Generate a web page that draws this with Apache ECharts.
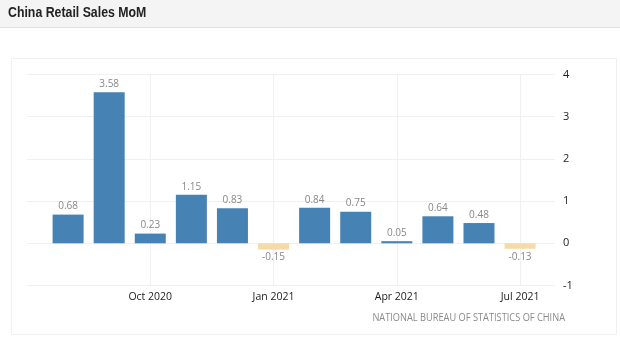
<!DOCTYPE html>
<html>
<head>
<meta charset="utf-8">
<script src="https://cdn.jsdelivr.net/npm/echarts@6/dist/echarts.min.js"></script>
<style>
html,body{margin:0;padding:0;background:#fff;}
#c{width:620px;height:343px;}
</style>
</head>
<body>
<div id="c"></div>
<script>
// Month positions: 0 = Jul 2020 ... 13 = Aug 2021
const monthLabels = ['Jul 2020','Aug 2020','Sep 2020','Oct 2020','Nov 2020','Dec 2020','Jan 2021','Feb 2021','Mar 2021','Apr 2021','May 2021','Jun 2021','Jul 2021','Aug 2021'];
const barMonths = [1,2,3,4,5,6,7,8,9,10,11,12];
const values = [0.68,3.58,0.23,1.15,0.83,-0.15,0.84,0.75,0.05,0.64,0.48,-0.13];
const yTicks = [-1,0,1,2,3,4];

const chart = echarts.init(document.getElementById('c'));
const seriesData = barMonths.map((m,i)=>{
  const v = values[i];
  return {
    value:[m,v],
    itemStyle:{color: v<0 ? '#f4dba9' : '#4682b4'},
    label:{position: v<0 ? 'bottom' : 'top'}
  };
});
chart.setOption({
  animation:false,
  graphic:[
    {type:'rect',shape:{x:0,y:0,width:620,height:27},style:{fill:'#f4f4f4'},z:-10},
    {type:'line',shape:{x1:0,y1:27.5,x2:620,y2:27.5},style:{stroke:'#e0e0e0',lineWidth:1},z:-9},
    {type:'text',x:8,y:5,scaleX:0.85,style:{text:'China Retail Sales MoM',font:'bold 14.5px "Liberation Sans", Arial, sans-serif',fill:'#222'}},
    {type:'rect',shape:{x:11.5,y:58.5,width:605,height:276},style:{fill:'none',stroke:'#f0f0f0',lineWidth:1},z:-8},
    {type:'text',x:565,y:313,scaleX:0.88,style:{text:'NATIONAL BUREAU OF STATISTICS OF CHINA',font:'10.5px "Open Sans", sans-serif',fill:'#8a8a8a',align:'right'}}
  ],
  grid:{left:27,right:65,top:74.5,bottom:57.5,containLabel:false},
  xAxis:{
    type:'value',min:0,max:12.85,interval:3,
    axisLine:{show:false},axisTick:{show:false},
    axisLabel:{
      margin:6,color:'#222',fontSize:10.5,fontFamily:'"Open Sans", sans-serif',
      formatter:(v)=> (v>0 && Number.isInteger(v)) ? monthLabels[v] : '',
      showMinLabel:false
    },
    splitLine:{show:true,showMinLine:false,showMaxLine:false,lineStyle:{color:'#f0f0f0',width:1}}
  },
  yAxis:{
    type:'value',position:'right',min:yTicks[0],max:yTicks[yTicks.length-1],interval:1,
    axisLine:{show:false},axisTick:{show:false},
    axisLabel:{margin:8,color:'#222',fontSize:11,fontFamily:'"Open Sans", sans-serif'},
    splitLine:{lineStyle:{color:'#f0f0f0',width:1}}
  },
  series:[{
    type:'bar',
    barWidth:31,
    data:seriesData,
    label:{show:true,distance:3,color:'#888',fontSize:10,fontFamily:'"Open Sans", sans-serif',
      formatter:(p)=>p.value[1].toFixed(2)}
  }]
});
</script>
</body>
</html>
